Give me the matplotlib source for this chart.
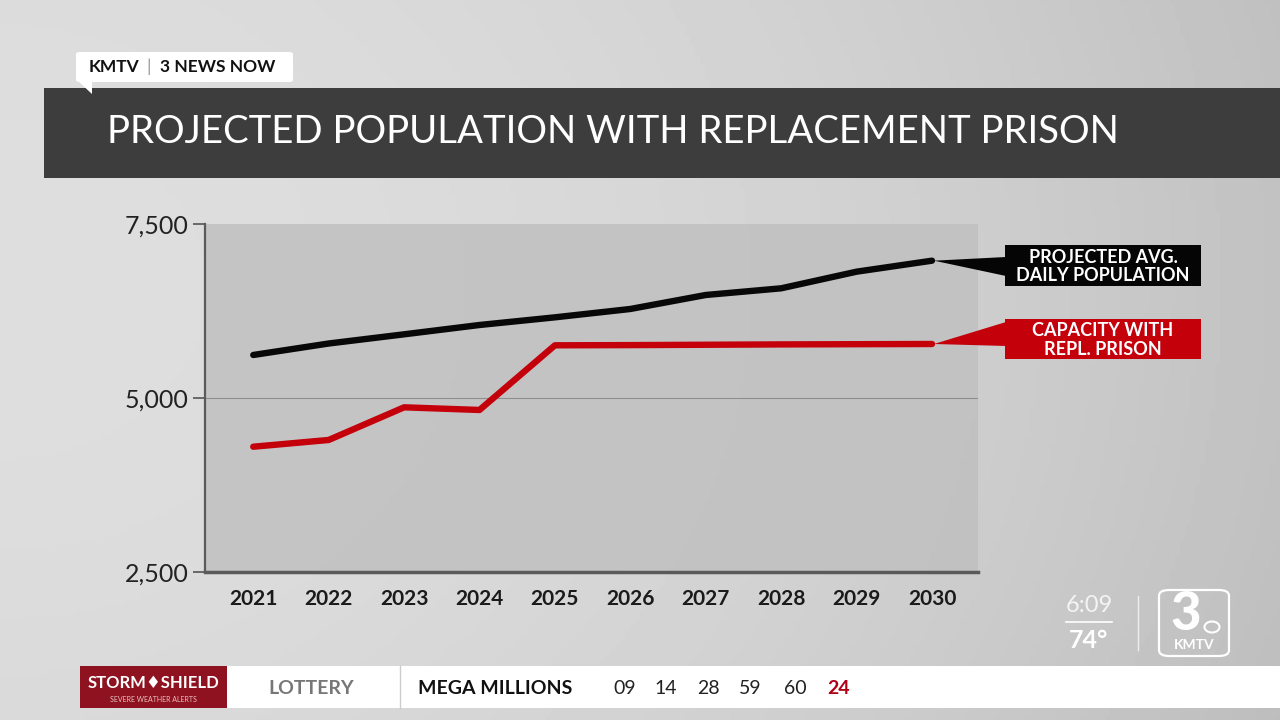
import matplotlib.pyplot as plt
import matplotlib.patches as mpatches
import numpy as np

years = [2021, 2022, 2023, 2024, 2025, 2026, 2027, 2028, 2029, 2030]
projected_pop = [5618, 5783, 5915, 6049, 6159, 6279, 6480, 6576, 6815, 6973]
capacity_repl = [4300, 4397, 4866, 4828, 5757, 5760, 5765, 5770, 5773, 5776]
yticks = [2500, 5000, 7500]
ytick_labels = ['2,500', '5,000', '7,500']
lottery_nums = ['09', '14', '28', '59', '60']
mega_ball = '24'

W, H = 1280, 720
fig = plt.figure(figsize=(W / 100, H / 100), dpi=100)
FAM = ['Lato', 'DejaVu Sans']

def px(x, y):
    # pixel coords (top-left origin) -> figure fraction
    return x / W, 1 - y / H

# background gradient
bg = fig.add_axes([0, 0, 1, 1])
gx = np.linspace(0, 1, 256)
gy = np.linspace(0, 1, 144)
GX, GY = np.meshgrid(gx, gy)
shade = 0.87 - 0.11 * GX ** 2 - 0.05 * (GY - 0.4) ** 2
bg.imshow(shade, cmap='gray', vmin=0, vmax=1, aspect='auto', extent=[0, 1, 0, 1])
bg.set_xlim(0, 1)
bg.set_ylim(0, 1)
bg.axis('off')

# title bar
x0, y0 = px(44, 178)
fig.patches.append(mpatches.Rectangle((x0, y0), 1 - x0, 90 / H, transform=fig.transFigure,
                                      facecolor='#3d3d3d', edgecolor='none', zorder=2))
fig.text(*px(107, 132), 'PROJECTED POPULATION WITH REPLACEMENT PRISON', color='white',
         fontsize=27.6, family=FAM, va='center', ha='left', zorder=3)

# KMTV tag
x0, y0 = px(76, 82)
fig.patches.append(mpatches.FancyBboxPatch((x0, y0), 217 / W, 30 / H, transform=fig.transFigure,
                                           boxstyle='round,pad=0,rounding_size=0.003',
                                           facecolor='white', edgecolor='none', zorder=3))
fig.patches.append(mpatches.Polygon([px(78, 81), px(92, 81), px(92, 94)], closed=True,
                                    transform=fig.transFigure, facecolor='white',
                                    edgecolor='none', zorder=3))
fig.text(*px(89, 67), 'KMTV', fontsize=12.5, family=FAM, weight='bold', color='#111',
         va='center', ha='left', zorder=4)
fig.text(*px(149, 67), '|', fontsize=13, family=FAM, color='#999', va='center', ha='center', zorder=4)
fig.text(*px(160, 67), '3 NEWS NOW', fontsize=12.5, family=FAM, weight='bold', color='#111',
         va='center', ha='left', zorder=4)

# chart
l, b = px(205, 572)
r, t = px(978, 224)
ax = fig.add_axes([l, b, r - l, t - b])
ax.set_facecolor('#c0c0c0')
ax.patch.set_alpha(0.85)
ax.plot(years, projected_pop, color='#080808', lw=4.6, solid_capstyle='round',
        solid_joinstyle='round', zorder=3)
ax.plot(years, capacity_repl, color='#c4000b', lw=4.6, solid_capstyle='round',
        solid_joinstyle='round', zorder=3)
ax.set_xlim(2020.36, 2030.61)
ax.set_ylim(2500, 7500)
ax.set_yticks(yticks)
ax.set_yticklabels(ytick_labels, fontsize=18, family=FAM, color='#222')
ax.set_xticks(years)
ax.set_xticklabels([str(y) for y in years], fontsize=15, family=FAM, weight='bold', color='#1a1a1a')
ax.tick_params(axis='y', length=9, width=1.2, color='#555', pad=3)
ax.tick_params(axis='x', length=0, pad=12)
ax.axhline(5000, color='#8e8e8e', lw=0.8, zorder=1)
for s in ['top', 'right']:
    ax.spines[s].set_visible(False)
ax.spines['left'].set_color('#5a5a5a')
ax.spines['left'].set_linewidth(1.6)
ax.spines['bottom'].set_color('#5a5a5a')
ax.spines['bottom'].set_linewidth(2.5)

# callout boxes with pointers
def callout(yval, top_px, h_px, color, text, wedge):
    tip = ax.transData.transform((years[-1], yval))
    tip = fig.transFigure.inverted().transform(tip)
    bx, by = px(1005, top_px + h_px)
    fig.patches.append(mpatches.Rectangle((bx, by), 196 / W, h_px / H, transform=fig.transFigure,
                                          facecolor=color, edgecolor='none', zorder=5))
    fig.patches.append(mpatches.Polygon([(tip[0] + 2 / W, tip[1]), px(1006, wedge[0]), px(1006, wedge[1])],
                                        closed=True, transform=fig.transFigure,
                                        facecolor=color, edgecolor='none', zorder=5))
    mid = top_px + h_px / 2
    fig.text(*px(1103, mid + 1), text, fontsize=13, family=FAM, weight='bold', color='white',
             ha='center', va='center', linespacing=1.08, zorder=6)

fig.canvas.draw()
callout(projected_pop[-1], 245, 41, '#050505', 'PROJECTED AVG.\nDAILY POPULATION', (257, 276))
callout(capacity_repl[-1], 319, 40, '#c4000b', 'CAPACITY WITH\nREPL. PRISON', (322, 346))

# clock / logo
fig.text(*px(1089, 606), '6:09', fontsize=17, family=FAM, color='#f4f4f4', ha='center', va='center')
fig.lines.append(plt.Line2D([1066 / W, 1112 / W], [1 - 622 / H] * 2, transform=fig.transFigure,
                            color='white', lw=1.2))
fig.text(*px(1089, 640), '74°', fontsize=18, family=FAM, weight='bold', color='white',
         ha='center', va='center')
fig.lines.append(plt.Line2D([1138 / W] * 2, [1 - 596 / H, 1 - 650 / H], transform=fig.transFigure,
                            color='#eeeeee', lw=1))
x0, y0 = px(1159, 656)
fig.patches.append(mpatches.FancyBboxPatch((x0, y0), 70 / W, 66 / H, transform=fig.transFigure,
                                           boxstyle='round,pad=0,rounding_size=0.008',
                                           facecolor='none', edgecolor='white', lw=1.6))
fig.text(*px(1186, 614), '3', fontsize=38, family=FAM, weight='black', color='white',
         ha='center', va='center')
fig.patches.append(mpatches.Ellipse(px(1212, 627), 15 / W, 11 / H, transform=fig.transFigure,
                                    facecolor='none', edgecolor='white', lw=1.5))
fig.text(*px(1194, 645), 'KMTV', fontsize=10, family=FAM, weight='bold', color='white',
         ha='center', va='center')

# bottom ticker
x0, y0 = px(80, 708)
fig.patches.append(mpatches.Rectangle((x0, y0), 1 - x0, 42 / H, transform=fig.transFigure,
                                      facecolor='white', edgecolor='none', zorder=5))
fig.patches.append(mpatches.Rectangle((x0, y0), 147 / W, 42 / H, transform=fig.transFigure,
                                      facecolor='#8e1220', edgecolor='none', zorder=6))
fig.text(*px(153, 683), 'STORM\u2666SHIELD', fontsize=12, family=FAM, weight='bold', color='white',
         ha='center', va='center', zorder=7)
fig.text(*px(153, 700), 'SEVERE WEATHER ALERTS', fontsize=5, family=FAM, color='#e8c0c0',
         ha='center', va='center', zorder=7)
fig.text(*px(268, 688), 'LOTTERY', fontsize=14, family=FAM, weight='bold', color='#777',
         ha='left', va='center', zorder=7)
fig.lines.append(plt.Line2D([400 / W] * 2, [1 - 666 / H, 1 - 708 / H], transform=fig.transFigure,
                            color='#cccccc', lw=1, zorder=7))
fig.text(*px(418, 688), 'MEGA MILLIONS', fontsize=14, family=FAM, weight='bold', color='#111',
         ha='left', va='center', zorder=7)
xs = [625, 666, 708, 750, 795]
for xpos, n in zip(xs, lottery_nums):
    fig.text(*px(xpos, 688), n, fontsize=14, family=FAM, color='#222', ha='center', va='center', zorder=7)
fig.text(*px(839, 688), mega_ball, fontsize=14, family=FAM, weight='bold', color='#b00016',
         ha='center', va='center', zorder=7)

fig.savefig('out.png', dpi=100)
